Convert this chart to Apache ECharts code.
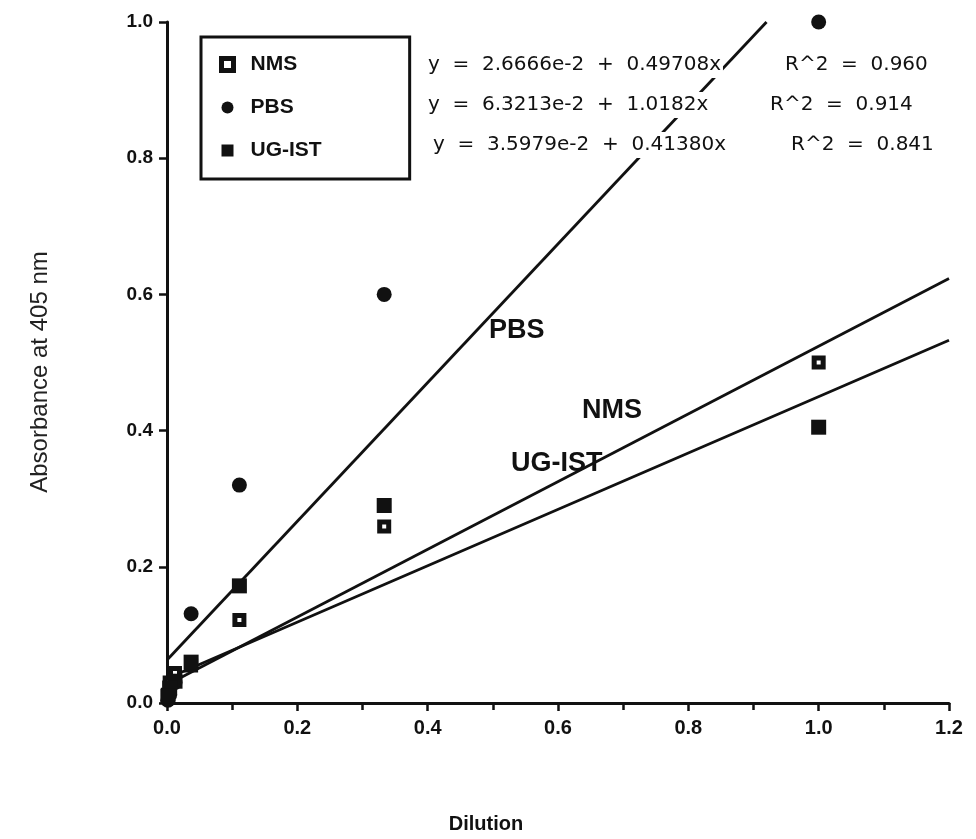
<!DOCTYPE html>
<html><head><meta charset="utf-8">
<script src="https://cdn.jsdelivr.net/npm/echarts@6/dist/echarts.min.js"></script>
<style>html,body{margin:0;padding:0;background:#fff}#c{width:976px;height:839px}</style>
</head><body><div id="c"></div>
<script>
// ---- data ----
const xTicks = ['0.0','0.2','0.4','0.6','0.8','1.0','1.2'];
const yTicks = ['0.0','0.2','0.4','0.6','0.8','1.0'];
const dilution  = [1.0, 0.3333, 0.1111, 0.0370, 0.0123, 0.0041, 0.0014];
const nmsValues = [0.500, 0.259, 0.122, 0.055, 0.044, 0.030, 0.012];
const pbsValues = [1.000, 0.600, 0.320, 0.131, 0.030, 0.012, 0.004];
const ugValues  = [0.405, 0.290, 0.172, 0.060, 0.032, 0.022, 0.010];
const nmsFit = [[0, 0.0267], [1.2, 0.6232]];
const pbsFit = [[0, 0.0632], [0.920, 1.0]];
const ugFit  = [[0, 0.0360], [1.2, 0.5326]];
const seriesNames = ['NMS', 'PBS', 'UG-IST'];
const equations = ['y  =  2.6666e-2  +  0.49708x', 'y  =  6.3213e-2  +  1.0182x', 'y  =  3.5979e-2  +  0.41380x'];
const rSquared = ['R^2  =  0.960', 'R^2  =  0.914', 'R^2  =  0.841'];
const xTitle = 'Dilution';
const yTitle = 'Absorbance at 405 nm';

const FONT = '"Liberation Sans", Arial, Helvetica, sans-serif';
const INK = '#111';
const pairs = v => dilution.map((d, i) => [d, v[i]]);

const chart = echarts.init(document.getElementById('c'), null, {renderer: 'canvas'});
const eqX = [426, 426, 431], rX = [783, 768, 789], rowY = [65, 105, 145];
const graphics = [];
equations.forEach((t, i) => {
  graphics.push({type: 'text', x: eqX[i], y: rowY[i], z: 100,
    style: {text: t, font: '20px "DejaVu Sans"', fill: INK, textAlign: 'left', textVerticalAlign: 'middle', align: 'left', verticalAlign: 'middle',
      backgroundColor: '#fff', padding: [3, 2, 3, 2]}});
  graphics.push({type: 'text', x: rX[i], y: rowY[i], z: 100,
    style: {text: rSquared[i], font: '20px "DejaVu Sans"', fill: INK, textAlign: 'left', textVerticalAlign: 'middle', align: 'left', verticalAlign: 'middle',
      backgroundColor: '#fff', padding: [3, 2, 3, 2]}});
});
const lineLabels = [['PBS', 489, 331], ['NMS', 582, 411], ['UG-IST', 511, 464]];
lineLabels.forEach(l => graphics.push({type: 'text', x: l[1], y: l[2], z: 100,
  style: {text: l[0], font: 'bold 27px ' + FONT, fill: INK, textAlign: 'left', textVerticalAlign: 'middle', align: 'left', verticalAlign: 'middle'}}));
graphics.push({type: 'text', x: 486, y: 824, z: 100,
  style: {text: xTitle, font: 'bold 20px ' + FONT, fill: INK, textAlign: 'center', textVerticalAlign: 'middle', align: 'center', verticalAlign: 'middle'}});
graphics.push({type: 'text', x: 40, y: 372, rotation: Math.PI / 2, z: 100,
  style: {text: yTitle, font: '24px ' + FONT, fill: '#222', textAlign: 'center', textVerticalAlign: 'middle', align: 'center', verticalAlign: 'middle'}});

const fitLine = {lineStyle: {color: INK, width: 2.8}, symbol: 'none', silent: true, z: 2};

chart.setOption({
  animation: false,
  backgroundColor: '#fff',
  grid: {left: 167, right: 27, top: 22, bottom: 136, containLabel: false},
  xAxis: {type: 'value', min: 0, max: 1.2, interval: 0.2,
    axisLine: {show: true, onZero: false, lineStyle: {color: INK, width: 3}},
    axisTick: {show: true, inside: false, length: 8, lineStyle: {color: INK, width: 2.5}},
    minorTick: {show: true, splitNumber: 2, length: 7, lineStyle: {color: INK, width: 2.5}},
    splitLine: {show: false},
    axisLabel: {formatter: (v) => xTicks[Math.round(v / 0.2)], color: INK, fontSize: 20, fontWeight: 'bold', fontFamily: FONT, margin: 15}},
  yAxis: {type: 'value', min: 0, max: 1, interval: 0.2,
    axisLine: {show: true, onZero: false, lineStyle: {color: INK, width: 3}},
    axisTick: {show: true, inside: false, length: 8, lineStyle: {color: INK, width: 2.5}},
    splitLine: {show: false},
    axisLabel: {formatter: (v) => yTicks[Math.round(v / 0.2)], color: INK, fontSize: 19, fontWeight: 'bold', fontFamily: FONT, margin: 14}},
  legend: {orient: 'vertical', left: 201, top: 37, itemGap: 22, itemWidth: 12, itemHeight: 12,
    borderColor: INK, borderWidth: 3, borderRadius: 0, padding: [17, 88, 18, 18],
    textStyle: {fontSize: 21, fontWeight: 'bold', fontFamily: FONT, color: INK, padding: [0, 0, 0, 12]},
    data: [
      {name: 'NMS', icon: 'rect', itemStyle: {color: '#fff', borderColor: INK, borderWidth: 5, opacity: 1}},
      {name: 'PBS', icon: 'circle', itemStyle: {color: INK, opacity: 1}},
      {name: 'UG-IST', icon: 'rect', itemStyle: {color: INK, opacity: 1}}
    ]},
  graphic: graphics,
  series: [
    Object.assign({type: 'line', name: 'NMS fit', data: nmsFit}, fitLine),
    Object.assign({type: 'line', name: 'PBS fit', data: pbsFit}, fitLine),
    Object.assign({type: 'line', name: 'UG-IST fit', data: ugFit}, fitLine),
    {type: 'scatter', name: seriesNames[0], data: pairs(nmsValues), symbol: 'rect', symbolSize: 9, z: 5,
      itemStyle: {color: '#fff', borderColor: INK, borderWidth: 5, opacity: 1}},
    {type: 'scatter', name: seriesNames[1], data: pairs(pbsValues), symbol: 'circle', symbolSize: 15, z: 5,
      itemStyle: {color: INK, opacity: 1}},
    {type: 'scatter', name: seriesNames[2], data: pairs(ugValues), symbol: 'rect', symbolSize: 15, z: 5,
      itemStyle: {color: INK, opacity: 1}}
  ]
});
</script></body></html>
